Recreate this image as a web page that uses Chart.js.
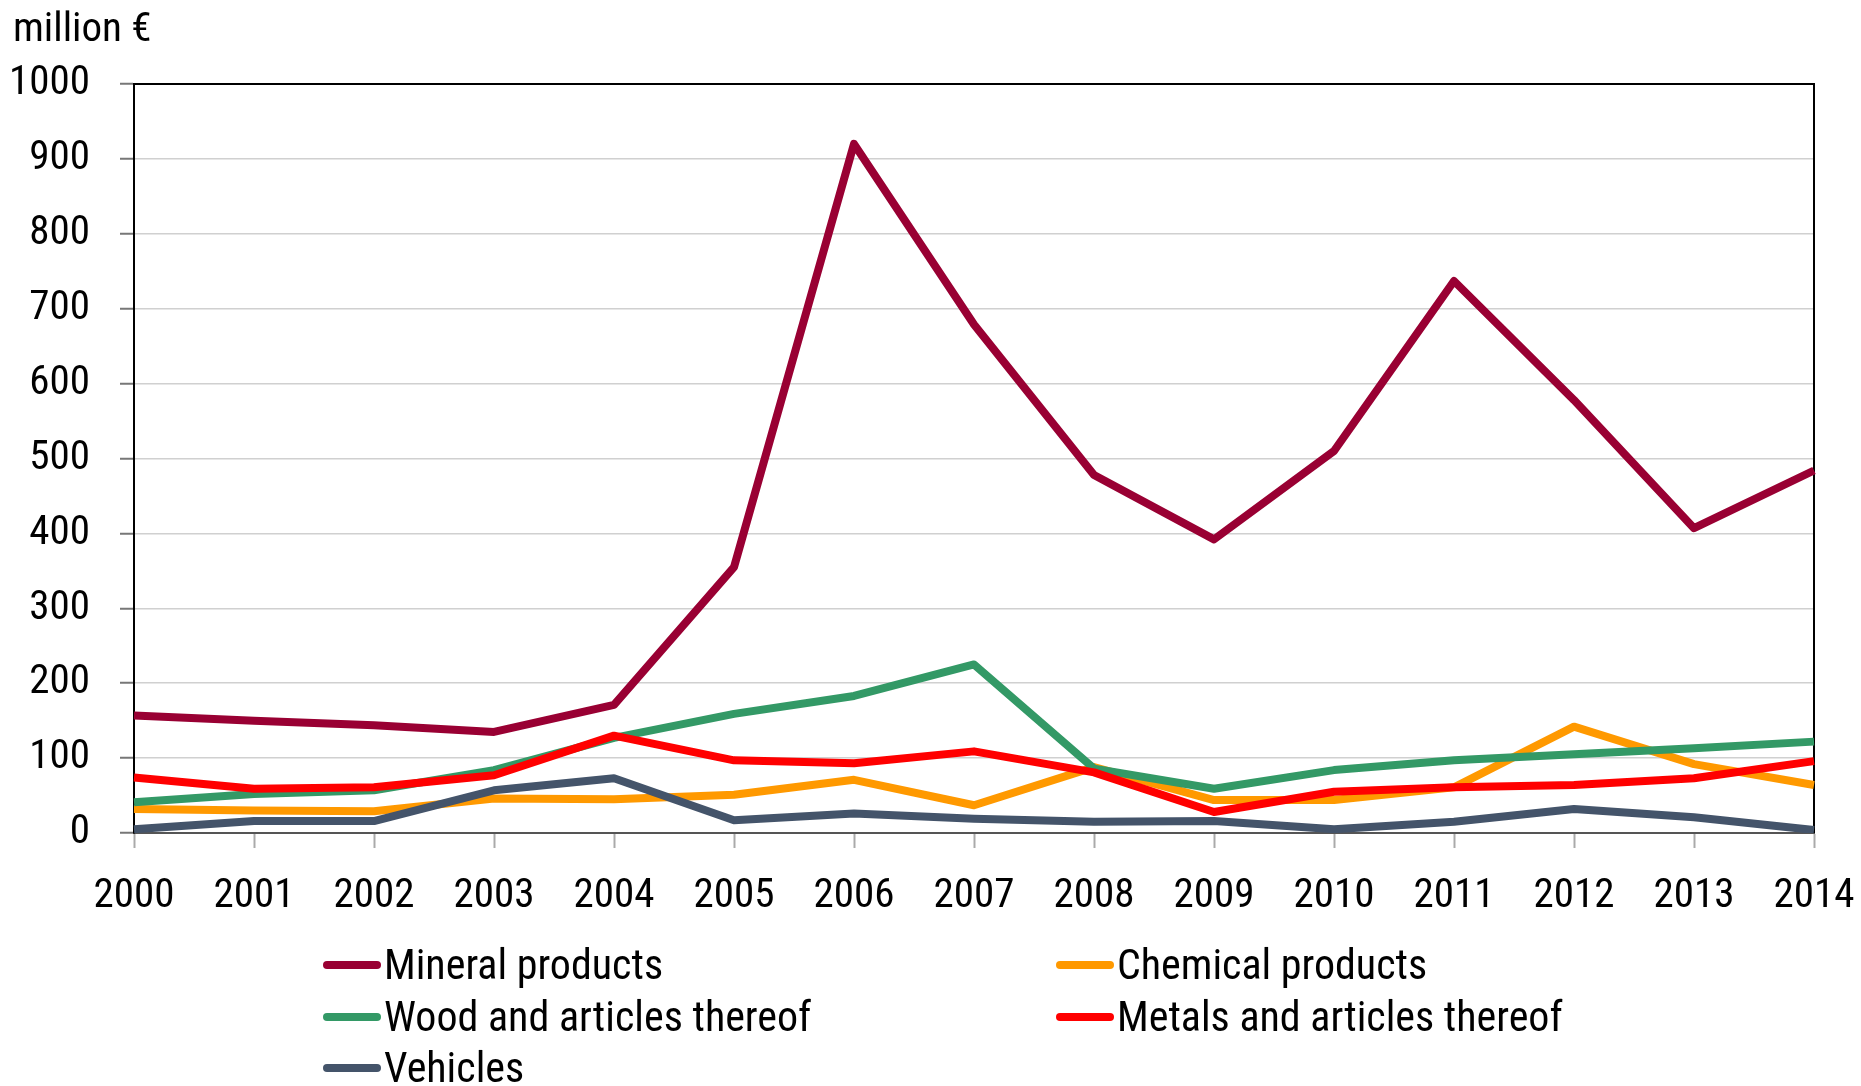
<!DOCTYPE html>
<html>
<head>
<meta charset="utf-8">
<script src="https://cdn.jsdelivr.net/npm/chart.js@4.4.1/dist/chart.umd.min.js"></script>
<style>
  html, body { margin: 0; padding: 0; background: #fff; }
  #wrap { position: relative; width: 1861px; height: 1086px; overflow: hidden; }
  #chart { position: absolute; left: 0; top: 0; }
  .unit {
    position: absolute; left: 13px; top: 3px;
    font: 41px 'Roboto Condensed', 'Liberation Sans Narrow', 'DejaVu Sans Condensed', sans-serif; color: #000;
  }
  .lg-item {
    position: absolute; display: flex; align-items: center;
    font: 42px 'Roboto Condensed', 'Liberation Sans Narrow', 'DejaVu Sans Condensed', sans-serif; color: #000;
    white-space: nowrap; line-height: 1;
  }
  .lg-swatch { width: 58px; height: 8px; border-radius: 4px; margin-right: 3px; }
</style>
</head>
<body>
<div id="wrap">
  <canvas id="chart" width="1861" height="1086"></canvas>
  <div class="unit">million €</div>
  <div id="legend"></div>
</div>
<script>
const FONT = "'Roboto Condensed', 'Liberation Sans Narrow', 'DejaVu Sans Condensed', sans-serif";

// years on the x axis
const years = ['2000', '2001', '2002', '2003', '2004', '2005', '2006', '2007',
               '2008', '2009', '2010', '2011', '2012', '2013', '2014'];

// values in million €
const mineral  = [157, 150, 144, 135, 171, 355, 920, 679, 478, 392, 510, 737, 578, 407, 484];
const chemical = [32, 30, 29, 46, 45, 51, 71, 37, 88, 44, 44, 61, 142, 92, 64];
const wood     = [41, 52, 57, 84, 127, 159, 183, 225, 86, 59, 84, 97, 105, 113, 122];
const metals   = [74, 59, 61, 77, 130, 97, 93, 109, 81, 28, 55, 61, 64, 73, 96];
const vehicles = [5, 16, 16, 57, 73, 17, 26, 19, 15, 16, 5, 15, 32, 21, 4];

const seriesNames = ['Mineral products', 'Chemical products', 'Wood and articles thereof',
                     'Metals and articles thereof', 'Vehicles'];
const seriesColors = ['#990033', '#ff9900', '#339966', '#ff0000', '#44546a'];
const seriesData = [mineral, chemical, wood, metals, vehicles];

// legend slots: [left, centre y] for each series, two columns
const legendPos = [[323, 965], [1056, 965], [323, 1017], [1056, 1017], [323, 1068]];

// black frame on top and right of the plot area
const frame = {
  id: 'frame',
  beforeDatasetsDraw(chart) {
    const { ctx, chartArea: a } = chart;
    ctx.save();
    ctx.strokeStyle = '#000';
    ctx.lineWidth = 2;
    ctx.beginPath();
    ctx.moveTo(a.left, a.top);
    ctx.lineTo(a.right, a.top);
    ctx.lineTo(a.right, a.bottom);
    ctx.stroke();
    ctx.restore();
  }
};

const chart = new Chart(document.getElementById('chart'), {
  type: 'line',
  data: {
    labels: years,
    datasets: seriesNames.map((name, i) => ({
      label: name,
      data: seriesData[i],
      borderColor: seriesColors[i],
      backgroundColor: seriesColors[i],
      borderWidth: 8,
      borderJoinStyle: 'round',
      pointRadius: 0,
      tension: 0,
      order: seriesNames.length - i,
    })),
  },
  options: {
    responsive: false,
    animation: false,
    layout: { padding: { left: 0, right: 47, top: 84, bottom: 0 } },
    plugins: { legend: { display: false }, tooltip: { enabled: false } },
    scales: {
      x: {
        offset: false,
        grid: { drawOnChartArea: false, drawTicks: true, tickLength: 15, tickColor: '#aaa', tickWidth: 2 },
        border: { color: '#555', width: 2 },
        ticks: { color: '#000', font: { family: FONT, size: 41 }, padding: 24, maxRotation: 0, autoSkip: false },
        afterFit(scale) {
          scale.height = 253;
          scale.paddingLeft = 0;
          scale.paddingRight = 0;
        },
      },
      y: {
        min: 0,
        max: 1000,
        grid: { color: '#d0d0d0', lineWidth: 1.5, tickLength: 14, tickColor: '#777', tickWidth: 2 },
        border: { color: '#000', width: 2 },
        ticks: { stepSize: 100, color: '#000', font: { family: FONT, size: 41 }, padding: 30,
                 callback: v => String(v) },
        afterFit(scale) {
          scale.width = 134;
          scale.paddingTop = 0;
          scale.paddingBottom = 0;
        },
      },
    },
  },
  plugins: [frame],
});

// HTML legend built from the datasets
const legend = document.getElementById('legend');
chart.data.datasets.forEach((ds, i) => {
  const item = document.createElement('div');
  item.className = 'lg-item';
  item.style.left = legendPos[i][0] + 'px';
  item.style.top = (legendPos[i][1] - 21) + 'px';
  item.style.height = '42px';
  const sw = document.createElement('span');
  sw.className = 'lg-swatch';
  sw.style.background = ds.borderColor;
  item.appendChild(sw);
  item.appendChild(document.createTextNode(ds.label));
  legend.appendChild(item);
});
</script>
</body>
</html>
